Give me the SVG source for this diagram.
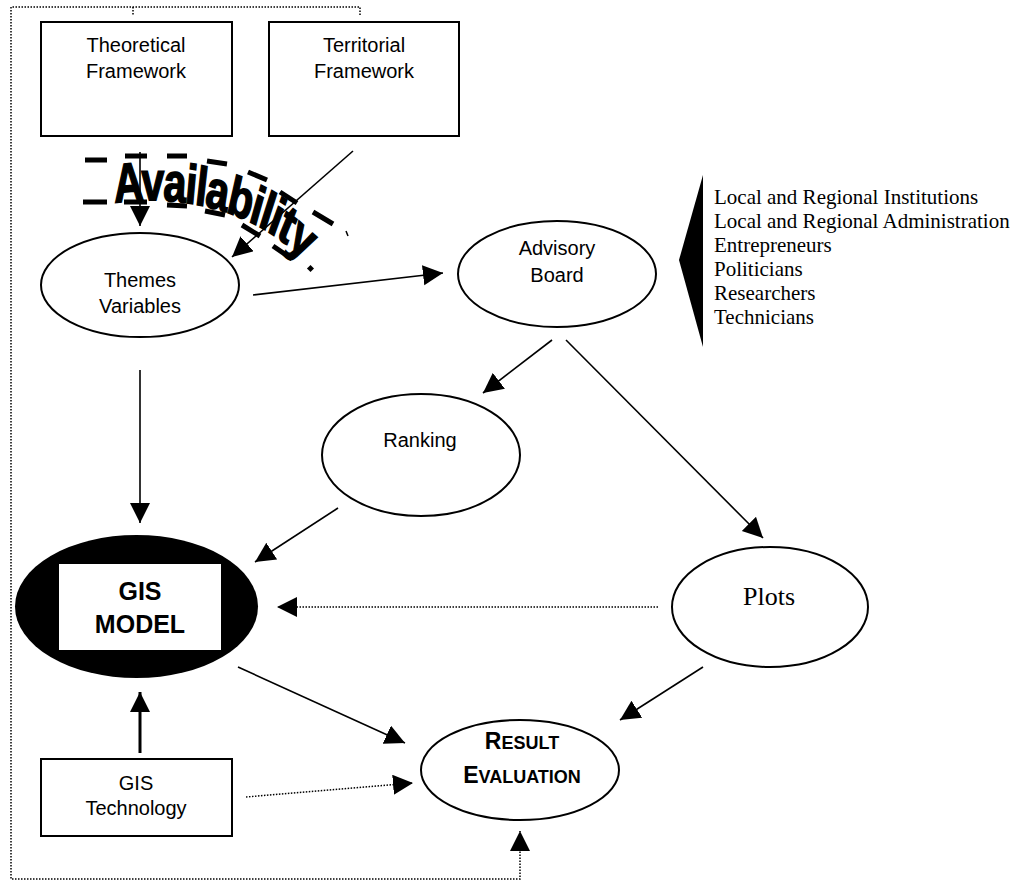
<svg xmlns="http://www.w3.org/2000/svg" width="1017" height="881" viewBox="0 0 1017 881">
<style>
.box{fill:#fff;stroke:#000;stroke-width:2}
.ell{fill:#fff;stroke:#000;stroke-width:2}
.lbl{font-family:"Liberation Sans",Arial,sans-serif;font-size:20px;fill:#000;text-anchor:middle}
.tnr{font-family:"Liberation Serif","Times New Roman",serif;fill:#000}
.con{stroke:#000;stroke-width:1.6;fill:none}
.dot{stroke:#000;stroke-width:1.5;fill:none;stroke-dasharray:1.5 1.5}
.bold{font-family:"Liberation Sans",Arial,sans-serif;font-weight:900;fill:#000;text-anchor:middle}
</style>
<defs>
<marker id="ah" markerUnits="userSpaceOnUse" markerWidth="21" markerHeight="21" refX="20" refY="10" orient="auto" viewBox="0 0 21 21">
<path d="M0,0 L20,10 L0,20 Z" fill="#000"/>
</marker>
<path id="arc" d="M 153 203 C 233 194, 344 206, 416 270"/>
</defs>
<rect width="1017" height="881" fill="#fff"/>

<g id="frame">
<path class="dot" d="M360,15 V7 H11 V879 H520 V831" marker-end="url(#ah)"/>
<path class="dot" d="M133,7 V15"/>
</g>

<g id="connectors">
<line class="con" x1="140" y1="152" x2="140" y2="226" marker-end="url(#ah)"/>
<line class="con" x1="353" y1="151" x2="232" y2="257" marker-end="url(#ah)"/>
<line class="con" x1="253" y1="295" x2="443" y2="273" marker-end="url(#ah)"/>
<line class="con" x1="552" y1="340" x2="483" y2="393" marker-end="url(#ah)"/>
<line class="con" x1="566" y1="340" x2="763" y2="538" marker-end="url(#ah)"/>
<line class="con" x1="140" y1="370" x2="140" y2="523" marker-end="url(#ah)"/>
<line class="con" x1="338" y1="508" x2="255" y2="562" marker-end="url(#ah)"/>
<line class="dot" x1="658" y1="607" x2="277" y2="607" marker-end="url(#ah)"/>
<line class="con" x1="238" y1="667" x2="405" y2="743" marker-end="url(#ah)"/>
<line class="con" x1="703" y1="667" x2="620" y2="720" marker-end="url(#ah)"/>
<line class="con" style="stroke-width:3" x1="140" y1="753" x2="140" y2="692" marker-end="url(#ah)"/>
<line class="dot" x1="246" y1="797" x2="413" y2="783" marker-end="url(#ah)"/>
</g>

<g id="theoretical">
<rect class="box" x="41" y="22" width="191" height="114"/>
<text class="lbl" x="136" y="52">Theoretical</text>
<text class="lbl" x="136" y="78">Framework</text>
</g>

<g id="territorial">
<rect class="box" x="269" y="22" width="190" height="114"/>
<text class="lbl" x="364" y="52">Territorial</text>
<text class="lbl" x="364" y="78">Framework</text>
</g>

<g id="availability">
<g stroke="#000" stroke-width="5" fill="none">
<path d="M85,160 H107 M125,156 H147 M167,156 H187 M207,161 L227,164 M248,172 L267,180 M280,192 L297,203 M313,212 L333,224"/>
<path d="M83,202 H107 M124,202 H147 M167,205 L187,206 M205,211 L225,215 M242,225 L260,236 M273,246 L292,259"/>
<path d="M346,231 L348,236" stroke-width="1.5"/>
<rect x="308" y="266" width="5" height="5" stroke="none" fill="#000" transform="rotate(45 310.5 268.5)"/>
</g>
<g transform="scale(0.75,1)">
<text font-family="'Liberation Sans',Arial,sans-serif" font-weight="bold" font-size="55" letter-spacing="-2" fill="#000" stroke="#000" stroke-width="1.6"><textPath href="#arc">Availability</textPath></text>
</g>
</g>

<g id="themes">
<ellipse class="ell" cx="140" cy="285" rx="99" ry="52"/>
<text class="lbl" x="140" y="287">Themes</text>
<text class="lbl" x="140" y="313">Variables</text>
</g>

<g id="advisory">
<ellipse class="ell" cx="557" cy="274" rx="99" ry="53"/>
<text class="lbl" x="557" y="255">Advisory</text>
<text class="lbl" x="557" y="282">Board</text>
</g>

<g id="stakeholders">
<polygon points="703,175 679,260 703,347" fill="#000"/>
<text class="tnr" font-size="21">
<tspan x="714" y="204">Local and Regional Institutions</tspan>
<tspan x="714" y="228">Local and Regional Administration</tspan>
<tspan x="714" y="252">Entrepreneurs</tspan>
<tspan x="714" y="276">Politicians</tspan>
<tspan x="714" y="300">Researchers</tspan>
<tspan x="714" y="324">Technicians</tspan>
</text>
</g>

<g id="ranking">
<ellipse class="ell" cx="421" cy="455" rx="99" ry="61"/>
<text class="lbl" x="420" y="447">Ranking</text>
</g>

<g id="plots">
<ellipse class="ell" cx="770" cy="607" rx="98" ry="60"/>
<text class="tnr" font-size="26" x="769" y="605" text-anchor="middle">Plots</text>
</g>

<g id="gismodel">
<ellipse cx="136.5" cy="606.5" rx="121.5" ry="71.5" fill="#000"/>
<rect x="59" y="564" width="162" height="86" fill="#fff"/>
<text class="bold" font-size="25" x="140" y="600">GIS</text>
<text class="bold" font-size="25" x="140" y="633">MODEL</text>
</g>

<g id="result">
<ellipse class="ell" cx="520" cy="770" rx="99" ry="50"/>
<text class="bold" x="522" y="749"><tspan font-size="23">R</tspan><tspan font-size="18">ESULT</tspan></text>
<text class="bold" x="522" y="783"><tspan font-size="23">E</tspan><tspan font-size="18">VALUATION</tspan></text>
</g>

<g id="gistech">
<rect class="box" x="41" y="759" width="191" height="77"/>
<text class="lbl" x="136" y="790">GIS</text>
<text class="lbl" x="136" y="815">Technology</text>
</g>
</svg>
